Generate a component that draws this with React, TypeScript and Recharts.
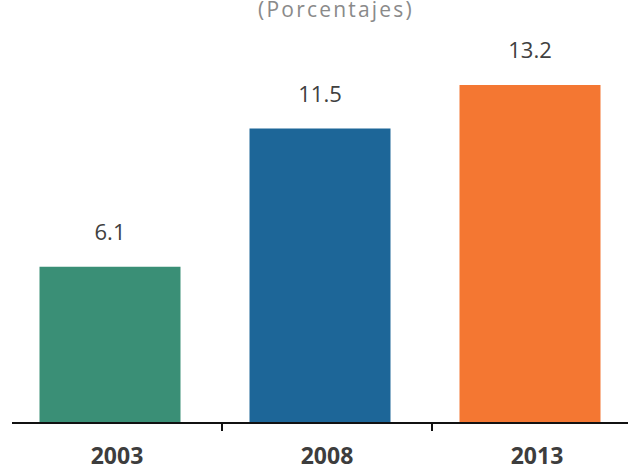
import React from "react";
import { BarChart, Bar, XAxis, YAxis, LabelList, Cell, Rectangle, ReferenceLine } from "recharts";

const years = ["2003", "2008", "2013"];
const values = [6.1, 11.5, 13.2];
const colors = ["#3a8f76", "#1d6698", "#f47732"];
const bandTicks = [1, 2];

const data = years.map((year, i) => ({ year, value: values[i], pos: i + 0.5 }));

const SHIFT = -7.5;

function ShiftedBar(props: any) {
  return <Rectangle {...props} x={props.x + SHIFT} />;
}

function ValueLabel(props: any) {
  const { x, y, width, value } = props;
  return (
    <text
      x={x + width / 2 + SHIFT}
      y={y - 27}
      textAnchor="middle"
      fill="#404040"
      fontSize={22}
      fontFamily="'Open Sans', sans-serif"
    >
      {value}
    </text>
  );
}

// short tick under the baseline between categories
function BandTick(props: any) {
  const { x1, y1, y2 } = props;
  const base = Math.max(y1, y2);
  return <line x1={x1} x2={x1} y1={base} y2={base + 8} stroke="#111" strokeWidth={2} />;
}

export default function App() {
  return (
    <div style={{ position: "fixed", left: 0, top: 0, width: 628, height: 466, overflow: "hidden", background: "#fff" }}>
      <div
        style={{
          position: "absolute",
          left: 0,
          width: 672,
          top: -5,
          textAlign: "center",
          fontFamily: "'Open Sans', sans-serif",
          fontSize: 21,
          letterSpacing: 2.2,
          color: "#8a8a8a",
          lineHeight: "28px",
        }}
      >
        (Porcentajes)
      </div>
      <BarChart width={642} height={466} data={data} margin={{ top: 39, right: 0, left: 12, bottom: 0 }}>
        <XAxis xAxisId="num" type="number" dataKey="pos" domain={[0, 3]} hide height={0} />
        <XAxis
          xAxisId="cat"
          dataKey="year"
          height={43}
          axisLine={{ stroke: "#111", strokeWidth: 2 }}
          tickLine={false}
          tick={{ fill: "#3d3d3d", fontSize: 23, fontWeight: 700, fontFamily: "'Open Sans', sans-serif" }}
          tickMargin={19}
        />
        <YAxis hide domain={[0, 15]} />
        <Bar xAxisId="cat" dataKey="value" barSize={141} shape={ShiftedBar} isAnimationActive={false}>
          {data.map((_, i) => (
            <Cell key={i} fill={colors[i]} />
          ))}
          <LabelList dataKey="value" content={ValueLabel} />
        </Bar>
        {bandTicks.map((t) => (
          <ReferenceLine key={t} xAxisId="num" x={t} shape={BandTick} ifOverflow="visible" />
        ))}
      </BarChart>
    </div>
  );
}
